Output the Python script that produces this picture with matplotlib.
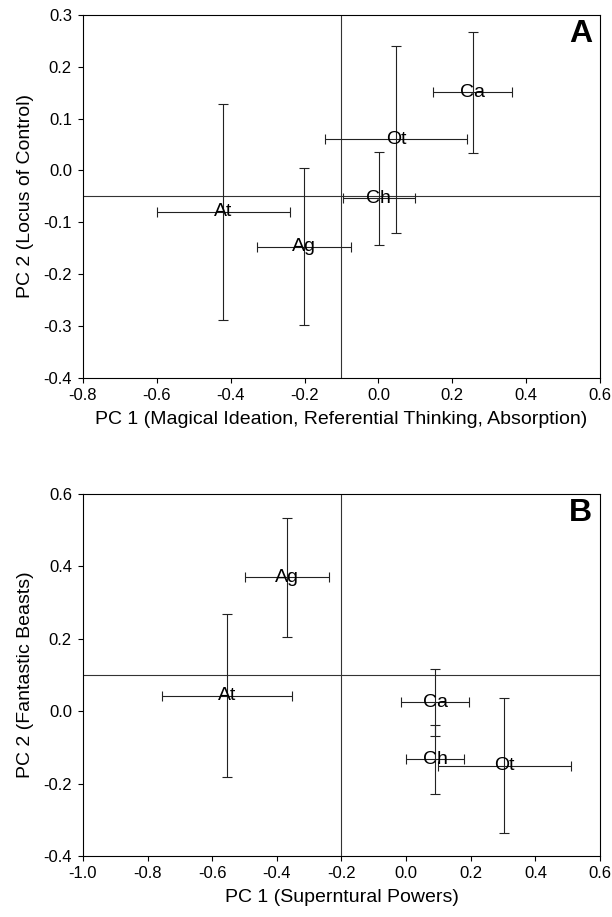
import matplotlib
matplotlib.use('Agg')
import matplotlib.pyplot as plt

plt.rcParams['font.family'] = ['Liberation Sans', 'DejaVu Sans']

# Panel A values
groups_a = ['At', 'Ag', 'Ch', 'Ot', 'Ca']
pc1_a = [-0.42, -0.202, 0.001, 0.048, 0.255]
pc1_err_a = [0.18, 0.128, 0.097, 0.193, 0.107]
pc2_a = [-0.08, -0.147, -0.054, 0.06, 0.151]
pc2_err_a = [0.209, 0.152, 0.09, 0.18, 0.117]
ref_a = (-0.1, -0.05)

# Panel B values
groups_b = ['Ag', 'At', 'Ca', 'Ch', 'Ot']
pc1_b = [-0.368, -0.554, 0.09, 0.09, 0.304]
pc1_err_b = [0.13, 0.2, 0.105, 0.09, 0.205]
pc2_b = [0.369, 0.043, 0.024, -0.133, -0.151]
pc2_err_b = [0.165, 0.225, 0.093, 0.096, 0.186]
ref_b = (-0.2, 0.1)

fig = plt.figure(figsize=(6.12, 9.17), dpi=100)
ax_a = fig.add_axes([0.1356, 0.5881, 0.8448, 0.3955])
ax_b = fig.add_axes([0.1356, 0.0665, 0.8448, 0.3951])


def draw(ax, names, x, xe, y, ye, ref, letter):
    ax.axvline(ref[0], color='#333333', lw=0.8, zorder=1)
    ax.axhline(ref[1], color='#333333', lw=0.8, zorder=1)
    ax.errorbar(x, y, xerr=xe, yerr=ye, fmt='none', ecolor='#222222',
                elinewidth=0.8, capsize=3.6, capthick=0.8, zorder=2)
    for n, xi, yi in zip(names, x, y):
        ax.text(xi, yi, n, ha='center', va='center', fontsize=14, zorder=3)
    ax.text(0.985, 0.988, letter, transform=ax.transAxes, ha='right', va='top',
            fontsize=23, fontweight='bold')
    ax.tick_params(direction='out', length=3.8, width=0.8, labelsize=12)
    ax.tick_params(axis='x', pad=3.6)
    ax.tick_params(axis='y', pad=4.2)
    for s in ax.spines.values():
        s.set_linewidth(0.8)


draw(ax_a, groups_a, pc1_a, pc1_err_a, pc2_a, pc2_err_a, ref_a, 'A')
ax_a.set_xlim(-0.8, 0.6)
ax_a.set_ylim(-0.4, 0.3)
ax_a.set_xticks([-0.8, -0.6, -0.4, -0.2, 0.0, 0.2, 0.4, 0.6])
ax_a.set_yticks([-0.4, -0.3, -0.2, -0.1, 0.0, 0.1, 0.2, 0.3])
ax_a.set_xticklabels(['-0.8', '-0.6', '-0.4', '-0.2', '0.0', '0.2', '0.4', '0.6'])
ax_a.set_yticklabels(['-0.4', '-0.3', '-0.2', '-0.1', '0.0', '0.1', '0.2', '0.3'])
ax_a.set_xlabel('PC 1 (Magical Ideation, Referential Thinking, Absorption)', fontsize=14, labelpad=5.5)
ax_a.set_ylabel('PC 2 (Locus of Control)', fontsize=14, labelpad=7)

draw(ax_b, groups_b, pc1_b, pc1_err_b, pc2_b, pc2_err_b, ref_b, 'B')
ax_b.set_xlim(-1.0, 0.6)
ax_b.set_ylim(-0.4, 0.6)
ax_b.set_xticks([-1.0, -0.8, -0.6, -0.4, -0.2, 0.0, 0.2, 0.4, 0.6])
ax_b.set_yticks([-0.4, -0.2, 0.0, 0.2, 0.4, 0.6])
ax_b.set_xticklabels(['-1.0', '-0.8', '-0.6', '-0.4', '-0.2', '0.0', '0.2', '0.4', '0.6'])
ax_b.set_yticklabels(['-0.4', '-0.2', '0.0', '0.2', '0.4', '0.6'])
ax_b.set_xlabel('PC 1 (Superntural Powers)', fontsize=14, labelpad=5.5)
ax_b.set_ylabel('PC 2 (Fantastic Beasts)', fontsize=14, labelpad=7)

fig.savefig('out.png', dpi=100)
